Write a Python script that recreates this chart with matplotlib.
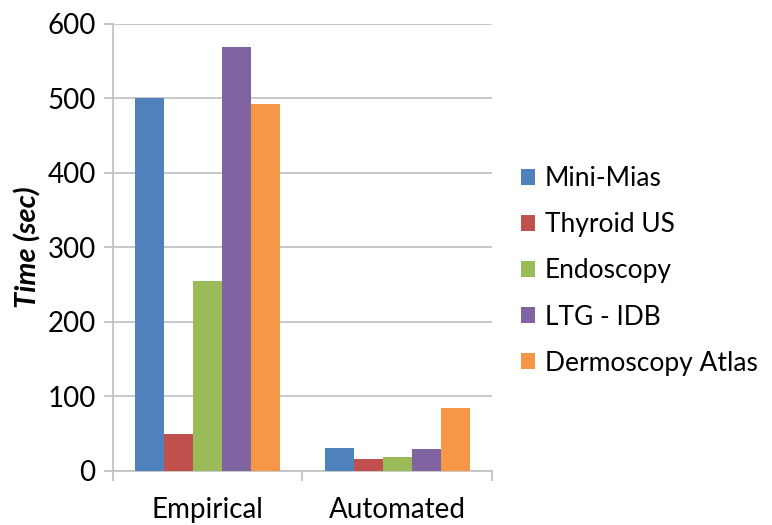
import matplotlib
matplotlib.use("Agg")
import numpy as np
import matplotlib.pyplot as plt
from matplotlib.patches import Patch

plt.rcParams['font.family'] = ['Lato', 'DejaVu Sans']

# timing results per method
methods = ['Empirical', 'Automated']
datasets = ['Mini-Mias', 'Thyroid US', 'Endoscopy', 'LTG - IDB', 'Dermoscopy Atlas']
mini_mias = [500, 31]
thyroid_us = [49, 16]
endoscopy = [255, 19]
ltg_idb = [569, 29]
dermoscopy = [492, 84]

series = [mini_mias, thyroid_us, endoscopy, ltg_idb, dermoscopy]
colors = ['#4F81BD', '#C0504D', '#9BBB59', '#8064A2', '#F79646']

fig = plt.figure(figsize=(7.72, 5.25), dpi=100)
ax = fig.add_axes([0.1464, 0.1034, 0.4907, 0.8509])

x = np.arange(len(methods))
w = 0.153
for i, (vals, c) in enumerate(zip(series, colors)):
    ax.bar(x + (i - 2) * w, vals, width=w, color=c, zorder=3)

ax.set_xlim(-0.5, 1.5)
ax.set_ylim(0, 600)
ax.set_yticks(range(0, 700, 100))
ax.yaxis.grid(True, color='#BFBFBF', linewidth=1.2, zorder=0)

# category labels without ticks, divider ticks between categories
ax.set_xticks(x)
ax.set_xticklabels(methods, fontsize=20)
ax.tick_params(axis='x', which='major', length=0, pad=19)
ax.set_xticks([-0.5, 0.5, 1.5], minor=True)
ax.tick_params(axis='x', which='minor', length=7, color='#BFBFBF', width=1.2)
ax.tick_params(axis='y', length=6.5, color='#BFBFBF', width=1.2, labelsize=20, pad=6)

for s in ['top', 'right']:
    ax.spines[s].set_visible(False)
for s in ['left', 'bottom']:
    ax.spines[s].set_color('#BFBFBF')
    ax.spines[s].set_linewidth(1.2)

ax.set_ylabel('Time (sec)', fontsize=21, fontweight='bold', fontstyle='italic', labelpad=4)

handles = [Patch(facecolor=c, edgecolor='none') for c in colors]
fig.legend(handles, datasets, loc='center left', bbox_to_anchor=(0.644, 0.484),
           frameon=False, fontsize=19, handlelength=0.55, handleheight=0.55,
           handletextpad=0.35, labelspacing=0.8)

fig.savefig('out.png', dpi=100)
